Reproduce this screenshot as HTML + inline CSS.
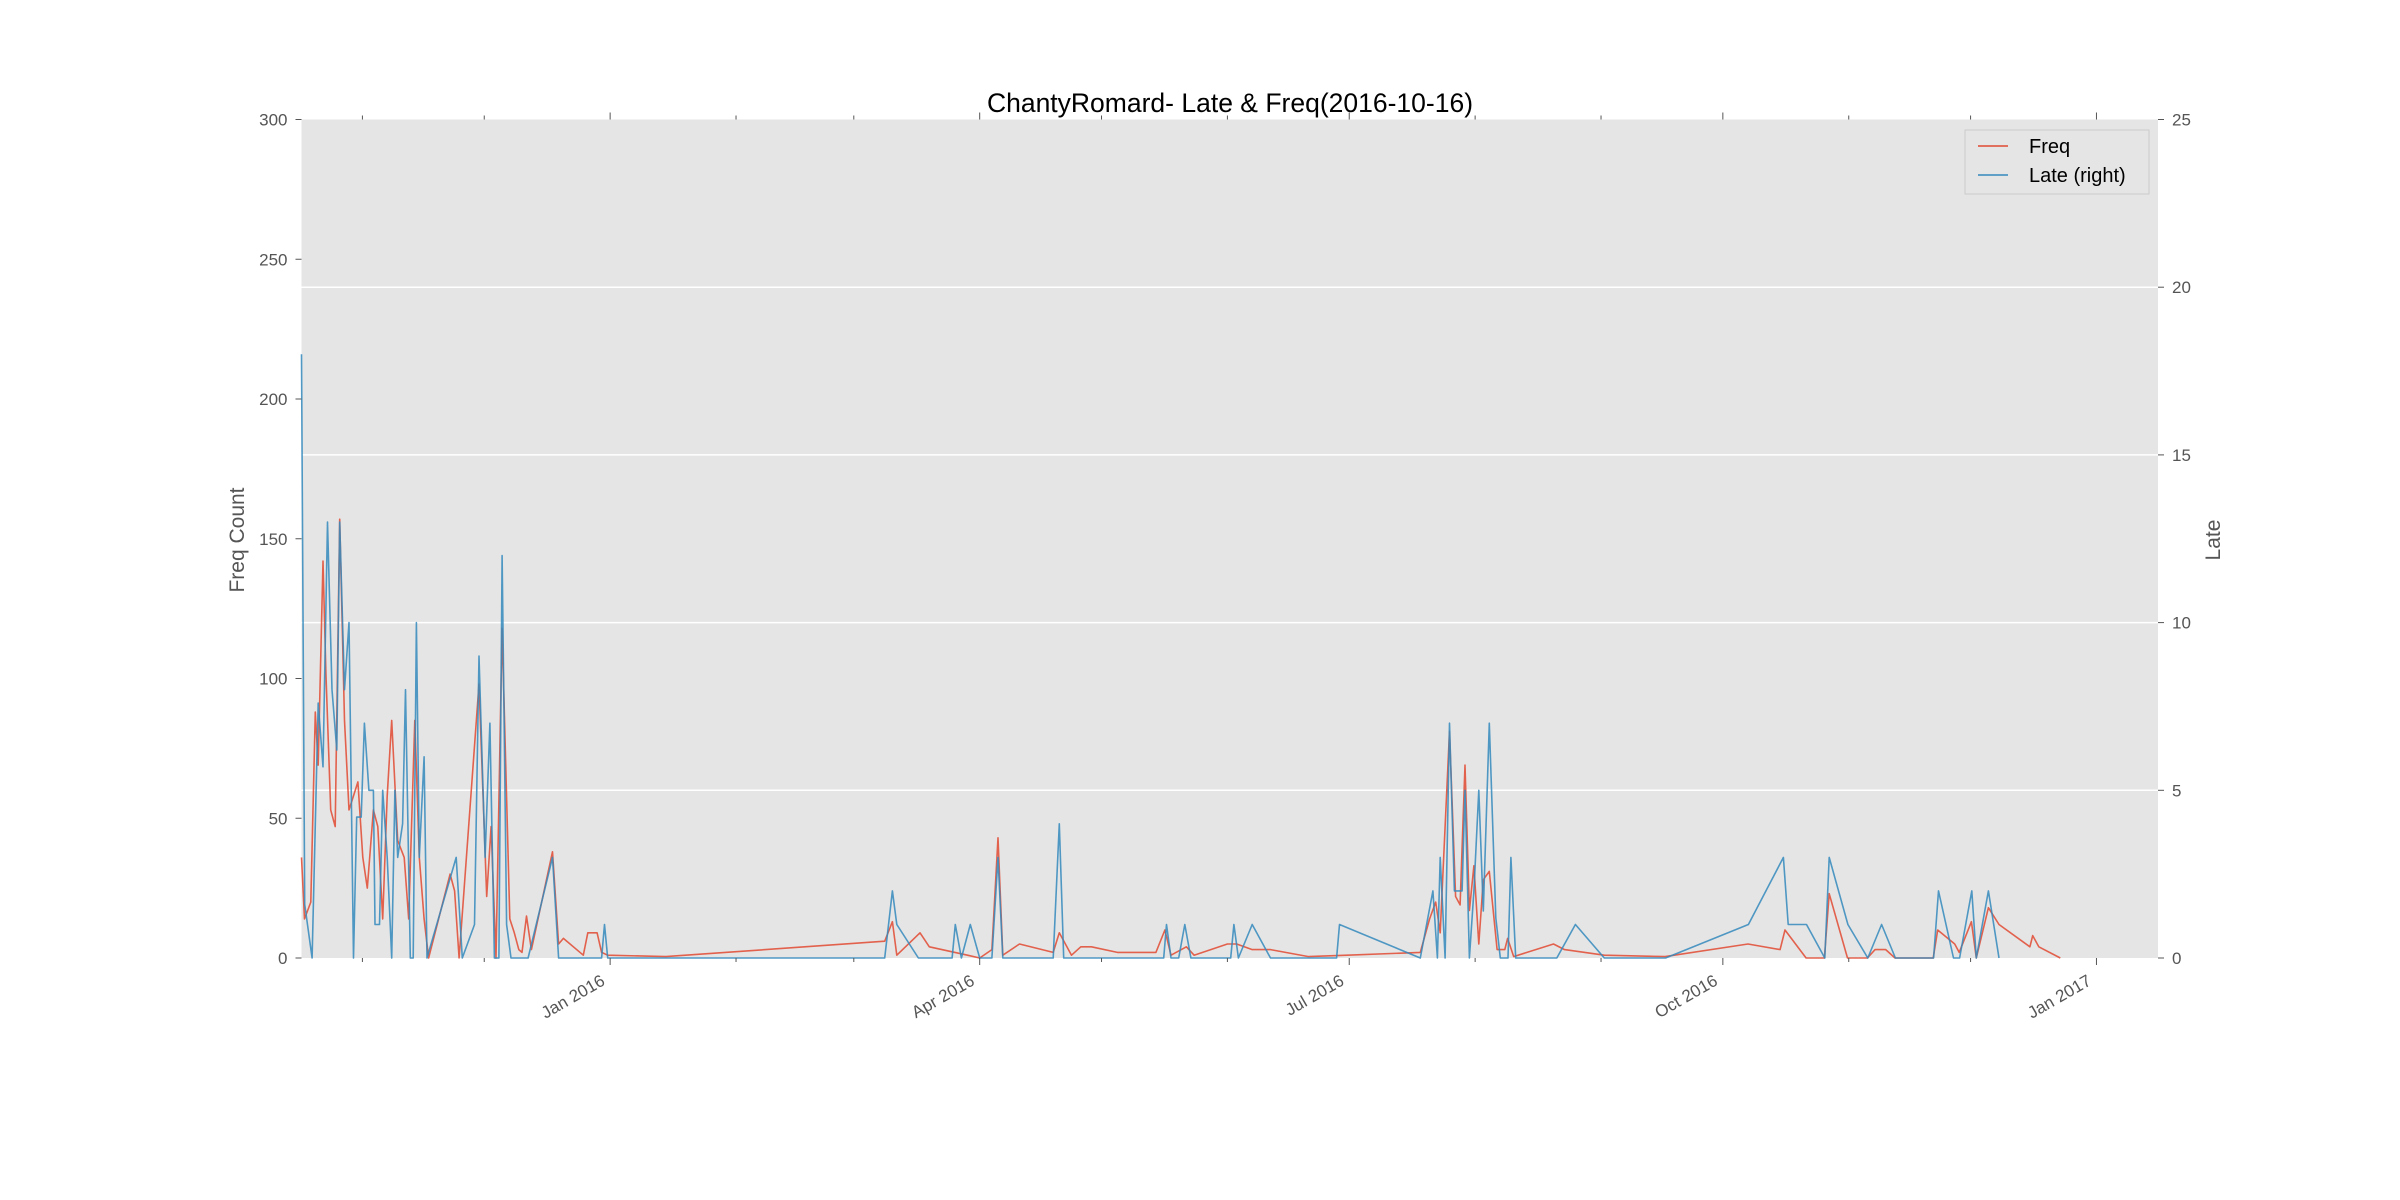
<!DOCTYPE html>
<html><head><meta charset="utf-8">
<style>
html,body{margin:0;padding:0;background:#fff;}
svg{display:block;font-family:"Liberation Sans","DejaVu Sans",sans-serif;}
</style></head>
<body>
<svg id="chart" width="2400" height="1200" viewBox="0 0 2400 1200" xmlns="http://www.w3.org/2000/svg">
<rect x="301.5" y="119.5" width="1856.5" height="838.5" fill="#E5E5E5"/>
<g id="grid"></g>
<g id="series"></g>
<g id="axes"></g>
<text x="1230" y="112" text-anchor="middle" font-size="26.5" fill="#000">ChantyRomard- Late &amp; Freq(2016-10-16)</text>
<text transform="translate(244,540) rotate(-90)" text-anchor="middle" font-size="21" fill="#555">Freq Count</text>
<text transform="translate(2220,540) rotate(-90)" text-anchor="middle" font-size="21" fill="#555">Late</text>
<g>
<rect x="1965" y="130" width="184" height="64" fill="#E5E5E5" stroke="#ccc" stroke-width="1"/>
<line x1="1978" y1="146" x2="2008" y2="146" stroke="#E24A33" stroke-width="1.5"/>
<text x="2029" y="153" font-size="20" fill="#000">Freq</text>
<line x1="1978" y1="175" x2="2008" y2="175" stroke="#348ABD" stroke-width="1.5"/>
<text x="2029" y="182" font-size="20" fill="#000">Late (right)</text>
</g>
</svg>
<script>
// x values: days since 2015-10-17
const freqDays=[0,0.75,2.3,3.4,4.1,5.3,6.0,7.2,8.3,9.4,10.6,11.7,12.8,13.9,15.1,16.2,17.7,18.8,20.0,21.1,22.2,23.7,25.3,26.4,27.9,29.0,30.2,31.3,36.6,37.7,38.8,43.7,45.6,46.7,47.9,49.4,51.3,52.4,53.5,54.3,55.4,56.6,61.8,63.3,64.5,69.4,70.5,72.8,73.9,75.4,89.7,143.6,145.5,146.6,152.3,154.6,164.0,167.0,170.0,171.5,172.7,176.8,185.1,186.6,189.6,191.9,194.5,200.9,210.4,212.6,214.1,217.9,219.8,228.0,230.3,234.1,238.6,248.0,257.5,275.5,277.8,279.3,280.4,282.7,284.2,285.3,286.5,287.6,288.7,289.9,291.0,292.5,294.4,296.3,297.0,298.5,308.3,311.0,320.8,335.8,356.2,364.1,365.3,370.5,375.0,376.2,380.7,385.6,387.5,390.1,392.4,401.8,402.9,407.1,408.2,411.2,412.4,415.4,418.0,425.6,426.3,427.8,433.1];
const freqVals=[36,14,20,88,69,142,102,53,47,157,85,53,58,63,36,25,53,47,14,58,85,42,36,14,85,36,14,0,30,24,0,98,22,47,0,118,14,9,3,2,15,3,38,5,7,1,9,9,2,1,0.5,6,13,1,9,4,1,0,3,43,1,5,2,9,1,4,4,2,2,10,1,4,1,5,5,3,3,0.5,1,2,14,20,9,81,22,19,69,17,33,5,28,31,3,3,7,0.5,5,3,1,0.5,5,3,10,0,0,23,0,0,3,3,0,0,10,5,2,13,0,18,12,4,8,4,0];
const lateDays=[0,0.8,2.6,4.1,5.3,6.4,7.5,8.7,9.4,10.6,11.7,12.8,13.6,14.7,15.5,16.6,17.7,18.1,19.2,20.0,21.1,22.2,23.0,23.7,24.9,25.6,26.8,27.5,28.3,29.0,30.2,30.9,38.1,39.6,42.6,43.7,45.2,46.4,47.5,48.6,49.4,50.5,51.6,55.8,61.8,63.3,73.9,74.6,75.4,143.6,145.5,146.6,151.9,160.2,161.0,162.5,164.7,167.0,170.0,171.5,172.7,185.1,186.6,187.7,212.3,213.0,214.1,216.0,217.5,219.0,228.8,229.6,230.7,234.1,238.6,254.9,255.6,275.5,278.6,279.7,280.4,281.6,282.7,283.9,285.8,286.5,287.6,288.7,289.9,291.0,292.5,294.1,295.2,297.1,297.8,299.0,309.1,313.7,320.8,335.9,356.3,364.9,366.1,370.6,375.1,376.2,380.8,385.7,389.1,392.5,401.9,403.1,406.8,408.3,411.3,412.4,415.4,418.0];
const lateVals=[18,1.6,0,7.6,5.7,13,8,6.2,13,8,10,0,4.2,4.2,7,5,5,1,1,5,3,0,5,3,4,8,0,0,10,3,6,0,3,0,1,9,3,7,0,0,12,1,0,0,3,0,0,1,0,0,2,1,0,0,1,0,1,0,0,3,0,0,4,0,0,1,0,0,1,0,0,1,0,1,0,0,1,0,2,0,3,0,7,2,2,5,0,2,5,1.4,7,1.2,0,0,3,0,0,1,0,0,1,3,1,1,0,3,1,0,1,0,0,2,0,0,2,0,2,0];
const leftTicks=[0,50,100,150,200,250,300];
const rightTicks=[0,5,10,15,20,25];
const xTickDays=[76,167,258,350,442];
const xTickLabels=["Jan 2016","Apr 2016","Jul 2016","Oct 2016","Jan 2017"];
const xMinorDays=[15,45,107,136,197,228,289,320,381,411];

const L=301.5,R=2158,T=119.5,B=958;
const X=d=>L+d*4.061;
const YL=v=>B-v*(B-T)/300;
const YR=v=>B-v*(B-T)/25;
const NS='http://www.w3.org/2000/svg';
function mk(tag,parent,attrs){const e=document.createElementNS(NS,tag);for(const k in attrs)e.setAttribute(k,attrs[k]);parent.appendChild(e);return e;}
const grid=document.getElementById('grid'),series=document.getElementById('series'),axes=document.getElementById('axes');

rightTicks.forEach(v=>{
  if(v===0||v===25)return;
  const g=mk('line',grid,{x1:L,x2:R,y1:YR(v),y2:YR(v),stroke:'#fff','stroke-width':1.5});
  
  
});

function poly(days,vals,yf,color,name){
  const p=mk('polyline',series,{points:days.map((d,i)=>X(d).toFixed(1)+','+yf(vals[i]).toFixed(1)).join(' '),fill:'none',stroke:color,'stroke-width':1.6,'stroke-opacity':0.85,'stroke-linejoin':'round'});
  
  
}
poly(freqDays,freqVals,YL,'#E24A33','freq-line');
poly(lateDays,lateVals,YR,'#348ABD','late-line');

leftTicks.forEach(v=>{
  const tk=mk('line',axes,{x1:L-6,x2:L,y1:YL(v),y2:YL(v),stroke:'#555','stroke-width':1});
  
  
  const t=mk('text',axes,{x:L-14,y:YL(v)+6,'text-anchor':'end','font-size':17,fill:'#555'});
  t.textContent=v;
  
  
});
rightTicks.forEach(v=>{
  const tk=mk('line',axes,{x1:R,x2:R+6,y1:YR(v),y2:YR(v),stroke:'#555','stroke-width':1});
  
  
  const t=mk('text',axes,{x:R+14,y:YR(v)+6,'text-anchor':'start','font-size':17,fill:'#555'});
  t.textContent=v;
  
  
});
xTickDays.forEach((d,i)=>{
  [[B,B+7],[T-7,T]].forEach(([a,b])=>{
    const tk=mk('line',axes,{x1:X(d),x2:X(d),y1:a,y2:b,stroke:'#555','stroke-width':1});
    
    
  });
  const t=mk('text',axes,{x:X(d)-4,y:B+26,'text-anchor':'end','font-size':17,fill:'#555',transform:`rotate(-30 ${X(d)-4} ${B+26})`});
  t.textContent=xTickLabels[i];
  
  
});
xMinorDays.forEach(d=>{
  [[B,B+4],[T-4,T]].forEach(([a,b])=>{
    const tk=mk('line',axes,{x1:X(d),x2:X(d),y1:a,y2:b,stroke:'#555','stroke-width':1});
    
    
  });
});
</script>
</body></html>
